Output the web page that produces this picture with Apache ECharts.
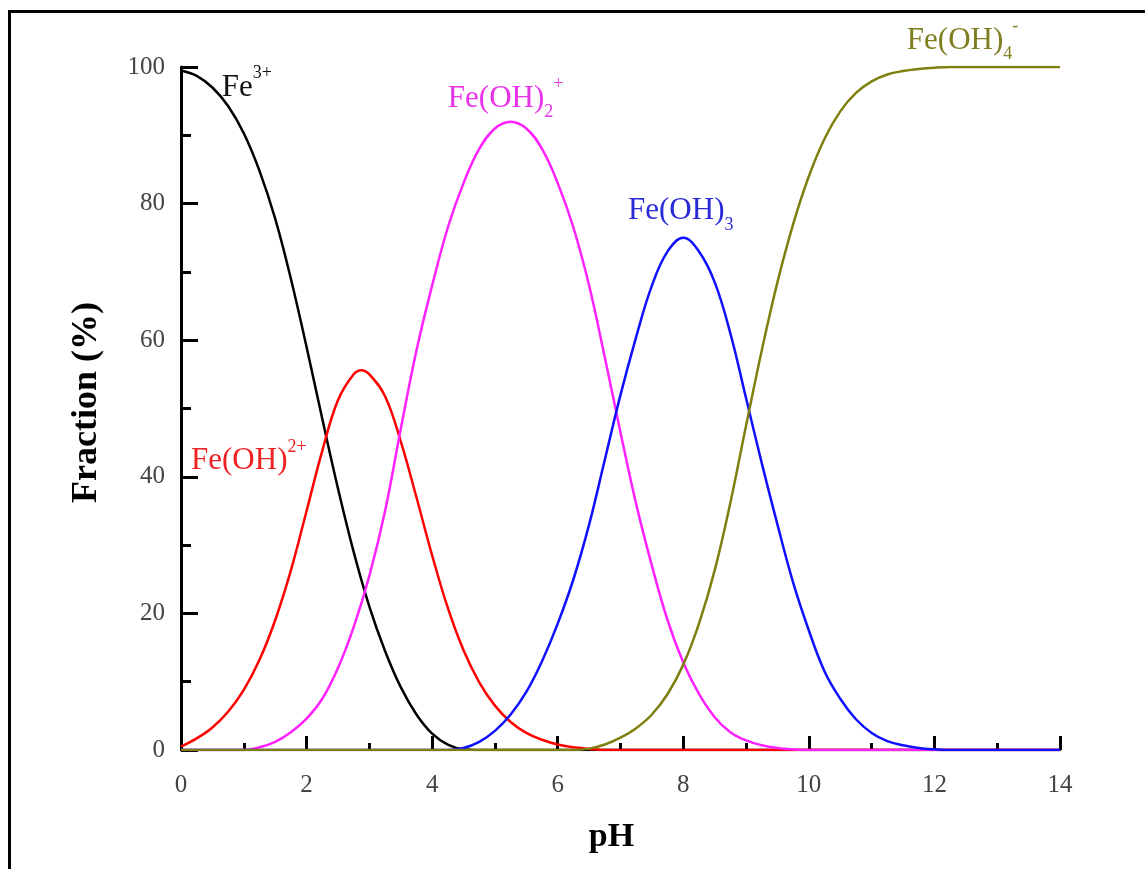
<!DOCTYPE html>
<html>
<head>
<meta charset="utf-8">
<script src="https://cdn.jsdelivr.net/npm/echarts@6/dist/echarts.min.js"></script>
<style>
  html, body { margin: 0; padding: 0; background: #fff; }
  #chart { width: 1145px; height: 869px; }
</style>
</head>
<body>
<div id="chart"></div>
<script>
// pH grid (x values shared by most series)
const pH = [0,0.25,0.5,0.75,1,1.25,1.5,1.75,2,2.25,2.5,2.75,3,3.25,3.5,3.75,4,4.25,4.5,4.75,5,5.25,5.5,5.75,6,6.25,6.5,6.75,7,7.25,7.5,7.75,8,8.25,8.5,8.75,9,9.25,9.5,9.75,10,10.25,10.5,10.75,11,11.25,11.5,11.75,12,12.25,12.5,12.75,13,13.25,13.5,13.75,14];
// pH grid for Fe(OH)2+ (adds its peak position)
const pHFeOH = [0,0.25,0.5,0.75,1,1.25,1.5,1.75,2,2.25,2.5,2.75,2.875,3,3.25,3.5,3.75,4,4.25,4.5,4.75,5,5.25,5.5,5.75,6,6.25,6.5,6.75,7,7.5,8,9,10,11,12,13,14];

// Fraction (%) of each species
const fe3 = [99.5,98.7,97,94.3,90.3,84.8,77.8,69,59,48.5,38.3,29,21,14.5,9.2,5.2,2.4,0.8,0.1,
  0,0,0,0,0,0,0,0,0,0,0,0,0,0,0,0,0,0,0,0,0,0,0,0,0,0,0,0,0,0,0,0,0,0,0,0,0,0];
const feOH = [0.5,1.7,3.3,5.6,8.8,13.2,19,26.3,35,43.8,51.2,55,55.6,55,51.8,45.2,37,28.5,20.8,14.6,9.9,6.5,4.1,2.5,1.5,0.8,0.4,0.15,0,
  0,0,0,0,0,0,0,0,0];
const feOH2 = [0,0,0,0,0,0.4,1.2,2.6,4.6,7.5,12,18,25.5,35,47,58.5,68,76.5,83,88,91,92,91,88,83,76.5,68,57.5,46.5,36,27,19,12.8,8.2,4.8,2.6,1.4,0.7,0.3,0.1,
  0,0,0,0,0,0,0,0,0,0,0,0,0,0,0,0,0];
const feOH3 = [0,0,0,0,0,0,0,0,0,0,0,0,0,0,0,0,0,0,
  0.3,1.2,2.8,5.2,8.5,13,18.5,25,33,42.5,52,60.5,68,73,75,73,68.5,61,51.5,42,33,24.5,17.5,11.5,7.5,4.5,2.5,1.3,0.7,0.3,0.1,
  0,0,0,0,0,0,0,0];
const feOH4 = [0,0,0,0,0,0,0,0,0,0,0,0,0,0,0,0,0,0,0,0,0,0,0,0,0,0,
  0.2,0.8,1.8,3.2,5.2,8.2,12.5,18.5,26.3,36.2,47.5,58.5,68.5,77,84,89.5,93.5,96.2,97.9,98.9,99.4,99.7,99.9,
  100,100,100,100,100,100,100,100];

const xTicks = { min: 0, max: 14, interval: 2 };
const yTicks = { min: 0, max: 100, interval: 20 };

const seriesDefs = [
  { name: 'Fe3+', x: pH, values: fe3, color: '#000000' },
  { name: 'Fe(OH)2+', x: pHFeOH, values: feOH, color: '#ff0000' },
  { name: 'Fe(OH)2 +', x: pH, values: feOH2, color: '#ff22ff' },
  { name: 'Fe(OH)3', x: pH, values: feOH3, color: '#1010ff' },
  { name: 'Fe(OH)4-', x: pH, values: feOH4, color: '#7f7f10' }
];

// curve labels: anchor in data coords (pH, %), rich text
const labelDefs = [
  { at: [0.65, 97.0], text: '{m|Fe}{sup|3+}', color: '#111111' },
  { at: [0.16, 42.3], text: '{m|Fe(OH)}{sup|2+}', color: '#ee2222' },
  { at: [4.25, 95.4], text: '{m|Fe(OH)}{sub|2}{sup|+}', color: '#e833e8' },
  { at: [7.12, 78.9], text: '{m|Fe(OH)}{sub|3}', color: '#2a2ad8' },
  { at: [11.56, 103.9], text: '{m|Fe(OH)}{sub|4}{sup|-}', color: '#7f7f22' }
];

const serif = "'Liberation Serif', 'DejaVu Serif', serif";
const chart = echarts.init(document.getElementById('chart'), null, { renderer: 'canvas' });

const option = {
  animation: false,
  backgroundColor: '#ffffff',
  grid: { left: 181, right: 85, top: 67, bottom: 119, containLabel: false },
  xAxis: {
    type: 'value', min: xTicks.min, max: xTicks.max, interval: xTicks.interval,
    name: 'pH', nameLocation: 'middle', nameGap: 70,
    nameTextStyle: { fontFamily: serif, fontWeight: 'bold', fontSize: 34, color: '#000', padding: [0, 18, 0, 0] },
    axisLine: { show: true, onZero: false, lineStyle: { color: '#000', width: 2 } },
    axisTick: { show: true, inside: true, length: 14, lineStyle: { color: '#000', width: 3 } },
    minorTick: { show: true, splitNumber: 2, length: 7, lineStyle: { color: '#000', width: 3 } },
    splitLine: { show: false },
    axisLabel: { fontFamily: serif, fontSize: 25, color: '#444', margin: 23 }
  },
  yAxis: {
    type: 'value', min: yTicks.min, max: yTicks.max, interval: yTicks.interval,
    name: 'Fraction (%)', nameLocation: 'middle', nameGap: 76,
    nameTextStyle: { fontFamily: serif, fontWeight: 'bold', fontSize: 36, color: '#000', padding: [0, 0, 0, 12] },
    axisLine: { show: true, onZero: false, lineStyle: { color: '#000', width: 3 } },
    axisTick: { show: true, inside: true, length: 17, lineStyle: { color: '#000', width: 3 } },
    minorTick: { show: true, splitNumber: 2, length: 10, lineStyle: { color: '#000', width: 3 } },
    splitLine: { show: false },
    axisLabel: { fontFamily: serif, fontSize: 25, color: '#444', margin: 16 }
  },
  series: seriesDefs.map(s => ({
    type: 'line', name: s.name,
    data: s.x.map((x, i) => [x, s.values[i]]),
    smooth: 0.4, showSymbol: false, symbol: 'none', clip: true,
    lineStyle: { color: s.color, width: 2.5 },
    itemStyle: { color: s.color }
  }))
};
chart.setOption(option);

const richStyles = (color) => ({
  m: { fontFamily: serif, fontSize: 31, lineHeight: 46, fill: color, verticalAlign: 'middle' },
  sup: { fontFamily: serif, fontSize: 18, lineHeight: 18, fill: color, verticalAlign: 'top' },
  sub: { fontFamily: serif, fontSize: 18, lineHeight: 18, fill: color, verticalAlign: 'bottom' }
});

const graphics = labelDefs.map(l => {
  const p = chart.convertToPixel({ gridIndex: 0 }, l.at);
  return {
    type: 'text', x: p[0], y: p[1], silent: true, z: 100,
    style: { text: l.text, fill: l.color, align: 'left', verticalAlign: 'middle', rich: richStyles(l.color) }
  };
});
// outer frame (left and top border of the figure)
graphics.push({ type: 'line', shape: { x1: 9.5, y1: 10, x2: 9.5, y2: 869 }, style: { stroke: '#000', lineWidth: 3 } });
graphics.push({ type: 'line', shape: { x1: 8, y1: 11.5, x2: 1145, y2: 11.5 }, style: { stroke: '#000', lineWidth: 3 } });

chart.setOption({ graphic: graphics });
</script>
</body>
</html>
